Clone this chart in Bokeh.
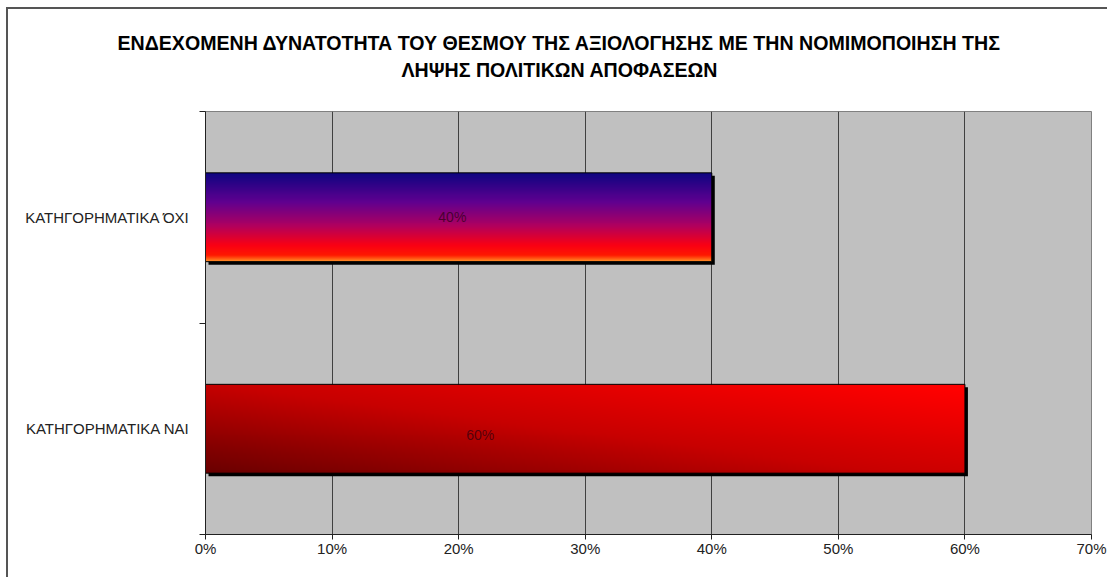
import numpy as np
from bokeh.plotting import figure
from bokeh.models import Range1d, FixedTicker, Title, ColumnDataSource
from bokeh.core.properties import value
from bokeh.embed import file_html
from bokeh.resources import INLINE

# ---- data ----
title_lines = ["ΕΝΔΕΧΟΜΕΝΗ ΔΥΝΑΤΟΤΗΤΑ ΤΟΥ ΘΕΣΜΟΥ ΤΗΣ ΑΞΙΟΛΟΓΗΣΗΣ ΜΕ ΤΗΝ ΝΟΜΙΜΟΠΟΙΗΣΗ ΤΗΣ",
               "ΛΗΨΗΣ ΠΟΛΙΤΙΚΩΝ ΑΠΟΦΑΣΕΩΝ"]
categories = ["ΚΑΤΗΓΟΡΗΜΑΤΙΚΑ ΝΑΙ", "ΚΑΤΗΓΟΡΗΜΑΤΙΚΑ ΌΧΙ"]   # bottom to top
values = [60, 40]
value_labels = ["60%", "40%"]
x_ticks = [0, 10, 20, 30, 40, 50, 60, 70]
x_tick_labels = ["0%", "10%", "20%", "30%", "40%", "50%", "60%", "70%"]

FONT = "Liberation Sans"
W, H = 1101, 570
FL, FR, FT, FB = 197, 18, 102, 45   # borders
frame_w = W - FL - FR
frame_h = H - FT - FB
XMAX = 70.0
YMAX = float(len(categories))
px_x = XMAX / frame_w
px_y = YMAX / frame_h

p = figure(width=W, height=H, output_backend="svg", toolbar_location=None,
           x_range=Range1d(0, XMAX), y_range=Range1d(0, YMAX),
           min_border_left=FL, min_border_right=FR, min_border_top=FT, min_border_bottom=FB,
           background_fill_color="#c0c0c0", border_fill_color="white",
           outline_line_color="#808080",
           styles={"margin-left": "6px", "margin-top": "7px",
                   "border-top": "2px solid #555555", "border-left": "2px solid #555555"})

bar_h = 0.42
ycent = [i + 0.5 for i in range(len(categories))]


def interp(stops, t):
    t = np.asarray(t, dtype=float)
    ts = [s[0] for s in stops]
    return [np.interp(t, ts, [s[1][k] for s in stops]) for k in range(3)]


def rgba_image(r, g, b):
    img = np.empty(r.shape, dtype=np.uint32)
    view = img.view(dtype=np.uint8).reshape(r.shape + (4,))
    view[..., 0] = np.clip(r, 0, 255)
    view[..., 1] = np.clip(g, 0, 255)
    view[..., 2] = np.clip(b, 0, 255)
    view[..., 3] = 255
    return img


# shadows
p.quad(left=[px_x * 3] * len(values), right=[v + px_x * 3 for v in values],
       bottom=[y - bar_h / 2 - px_y * 3 for y in ycent], top=[y + bar_h / 2 - px_y * 3 for y in ycent],
       fill_color="black", line_color=None)

ny, nx = 90, 300
fy = (np.arange(ny) + 0.5) / ny            # 0 bottom -> 1 top
fx = (np.arange(nx) + 0.5) / nx            # 0 left -> 1 right
FX, FY = np.meshgrid(fx, fy)

# bar 1 (ΌΧΙ): vertical gradient navy -> purple -> red -> orange (bottom)
stops_top = [(0.0, (10, 5, 128)), (0.33, (96, 0, 144)), (0.6, (176, 0, 96)),
             (0.82, (250, 0, 20)), (0.93, (255, 25, 0)), (1.0, (255, 150, 40))]
r, g, b = interp(stops_top, 1.0 - FY)
img_top = rgba_image(r, g, b)

# bar 0 (ΝΑΙ): diagonal dark red (bottom-left) -> bright red (top-right)
t = np.clip(0.55 * FX + 0.5 * FY, 0, 1)
r, g, b = interp([(0.0, (105, 0, 0)), (0.5, (200, 0, 0)), (1.0, (255, 0, 0))], t)
img_bot = rgba_image(r, g, b)

imgs = [img_bot, img_top]
p.image_rgba(image=imgs, x=[0] * len(values), y=[y - bar_h / 2 for y in ycent],
             dw=values, dh=[bar_h] * len(values))

# outlines
p.quad(left=[0] * len(values), right=values,
       bottom=[y - bar_h / 2 for y in ycent], top=[y + bar_h / 2 for y in ycent],
       fill_color=None, line_color="black", line_width=1)

# value labels
label_x = [21.7, 19.5]
src = ColumnDataSource(dict(x=label_x, y=[ycent[0] - 0.03, ycent[1] + 0.0], t=value_labels))
p.text(x="x", y="y", text="t", source=src, text_align="center", text_baseline="middle",
       text_font=value(FONT), text_font_size="14px", text_color="#2a0010", text_alpha=0.7)

# axes
p.xaxis.ticker = FixedTicker(ticks=x_ticks)
p.xaxis.major_label_overrides = {t_: l for t_, l in zip(x_ticks, x_tick_labels)}
p.xaxis.major_tick_out = 5
p.xaxis.major_tick_in = 0
p.xaxis.minor_tick_line_color = None
p.xaxis.axis_line_color = "#202020"
p.xaxis.major_tick_line_color = "#202020"
p.xaxis.major_label_standoff = 0
p.xaxis.major_label_text_font = FONT
p.xaxis.major_label_text_font_size = "15px"
p.xaxis.major_label_text_color = "#222222"

p.yaxis.ticker = FixedTicker(ticks=ycent, minor_ticks=list(range(len(categories) + 1)))
p.yaxis.major_label_overrides = {y: c for y, c in zip(ycent, categories)}
p.yaxis.major_tick_line_color = None
p.yaxis.major_tick_out = 0
p.yaxis.major_tick_in = 0
p.yaxis.minor_tick_out = 6
p.yaxis.minor_tick_in = 0
p.yaxis.minor_tick_line_color = "#202020"
p.yaxis.axis_line_color = "#202020"
p.yaxis.major_label_standoff = 10
p.yaxis.major_label_text_font = FONT
p.yaxis.major_label_text_font_size = "15px"
p.yaxis.major_label_text_color = "#222222"

p.xgrid.ticker = FixedTicker(ticks=x_ticks)
p.xgrid.grid_line_color = "#404040"
p.ygrid.grid_line_color = None

# titles (first added is closest to the plot)
spacer = Title(text=" ", text_font_size="1px", standoff=26)
t2 = Title(text=title_lines[1], align="left", offset=196, standoff=3,
           text_font=FONT, text_font_size="19.6px", text_font_style="bold", text_color="black")
t1 = Title(text=title_lines[0], align="left", offset=-88, standoff=3,
           text_font=FONT, text_font_size="19.6px", text_font_style="bold", text_color="black")
p.add_layout(spacer, "above")
p.add_layout(t2, "above")
p.add_layout(t1, "above")

open("out.html", "w").write(file_html(p, INLINE))
